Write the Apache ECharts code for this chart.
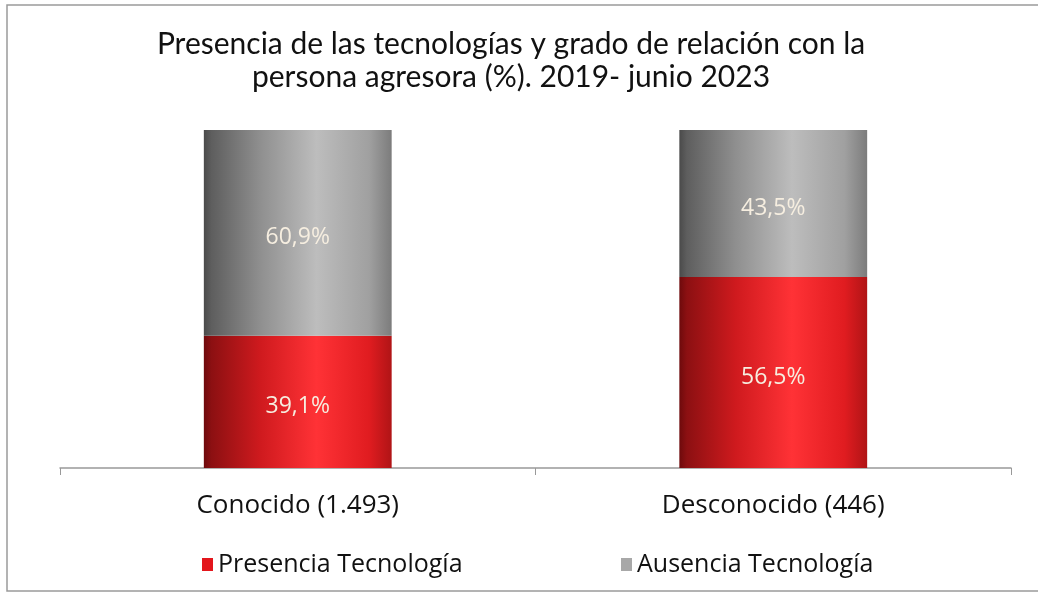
<!DOCTYPE html>
<html>
<head>
<meta charset="utf-8">
<script src="https://cdn.jsdelivr.net/npm/echarts@6/dist/echarts.min.js"></script>
<style>
  html, body { margin: 0; padding: 0; background: #ffffff; }
  #chart { width: 1038px; height: 596px; }
</style>
</head>
<body>
<div id="chart"></div>
<script>
// Relación con la persona agresora (n de casos entre paréntesis)
const categories = ['Conocido (1.493)', 'Desconocido (446)'];
// Porcentaje con presencia de tecnologías
const presencia = [39.1, 56.5];
// Porcentaje sin presencia de tecnologías
const ausencia = [60.9, 43.5];
const seriesNames = ['Presencia Tecnología', 'Ausencia Tecnología'];

const TITLE_FONT = 'Lato, "Noto Sans", sans-serif';
const TEXT_FONT = '"Open Sans", "Noto Sans", sans-serif';

function cylinder(stops) {
  return new echarts.graphic.LinearGradient(0, 0, 1, 0,
    stops.map(([o, c]) => ({ offset: o, color: c })));
}

const redFill = cylinder([
  [0, '#6e0a0c'], [0.04, '#8c1012'], [0.3, '#cf1a1e'],
  [0.6, '#ff3236'], [0.88, '#e01c20'], [1, '#b01416']
]);
const greyFill = cylinder([
  [0, '#4a4a4a'], [0.04, '#5e5e5e'], [0.3, '#8f8f8f'],
  [0.6, '#bdbdbd'], [0.88, '#a0a0a0'], [1, '#7c7c7c']
]);

const fmt = p => p.value.toFixed(1).replace('.', ',') + '%';

const legendText = { fontFamily: TEXT_FONT, fontSize: 25, color: '#111' };
const valueLabel = {
  show: true, position: 'inside', offset: [0, 5], formatter: fmt,
  fontFamily: TEXT_FONT, fontSize: 23, color: '#f6eee0'
};

const chart = echarts.init(document.getElementById('chart'));
chart.setOption({
  backgroundColor: '#ffffff',
  animation: false,
  title: {
    text: 'Presencia de las tecnologías y grado de relación con la\npersona agresora (%). 2019- junio 2023',
    left: 506,
    textAlign: 'center',
    top: 23,
    textStyle: { fontFamily: TITLE_FONT, fontSize: 30, fontWeight: 'normal', color: '#111', lineHeight: 33 }
  },
  graphic: [{
    type: 'rect',
    shape: { x: 7, y: 5, width: 1040, height: 586 },
    style: { fill: 'none', stroke: '#9a9a9a', lineWidth: 1.5 },
    silent: true
  }],
  legend: [
    {
      data: [{ name: seriesNames[0], itemStyle: { color: '#e3161c' } }],
      left: 197, top: 547, itemWidth: 11, itemHeight: 13, itemGap: 6,
      icon: 'rect', textStyle: legendText
    },
    {
      data: [{ name: seriesNames[1], itemStyle: { color: '#a8a8a8' } }],
      left: 616, top: 547, itemWidth: 11, itemHeight: 13, itemGap: 6,
      icon: 'rect', textStyle: legendText
    }
  ],
  grid: { left: 60, right: 27, top: 130, bottom: 128 },
  xAxis: {
    type: 'category',
    data: categories,
    axisLine: { lineStyle: { color: '#999', width: 1.5 } },
    axisTick: { show: true, length: 7, lineStyle: { color: '#999' } },
    axisLabel: { fontFamily: TEXT_FONT, fontSize: 26, color: '#111', margin: 25 }
  },
  yAxis: {
    type: 'value', min: 0, max: 100, show: false,
    splitLine: { show: false }
  },
  series: [
    {
      name: seriesNames[0], type: 'bar', stack: 'total', data: presencia,
      barWidth: '39.5%',
      itemStyle: { color: redFill },
      label: valueLabel
    },
    {
      name: seriesNames[1], type: 'bar', stack: 'total', data: ausencia,
      barWidth: '39.5%',
      itemStyle: { color: greyFill },
      label: valueLabel
    }
  ]
});
</script>
</body>
</html>
